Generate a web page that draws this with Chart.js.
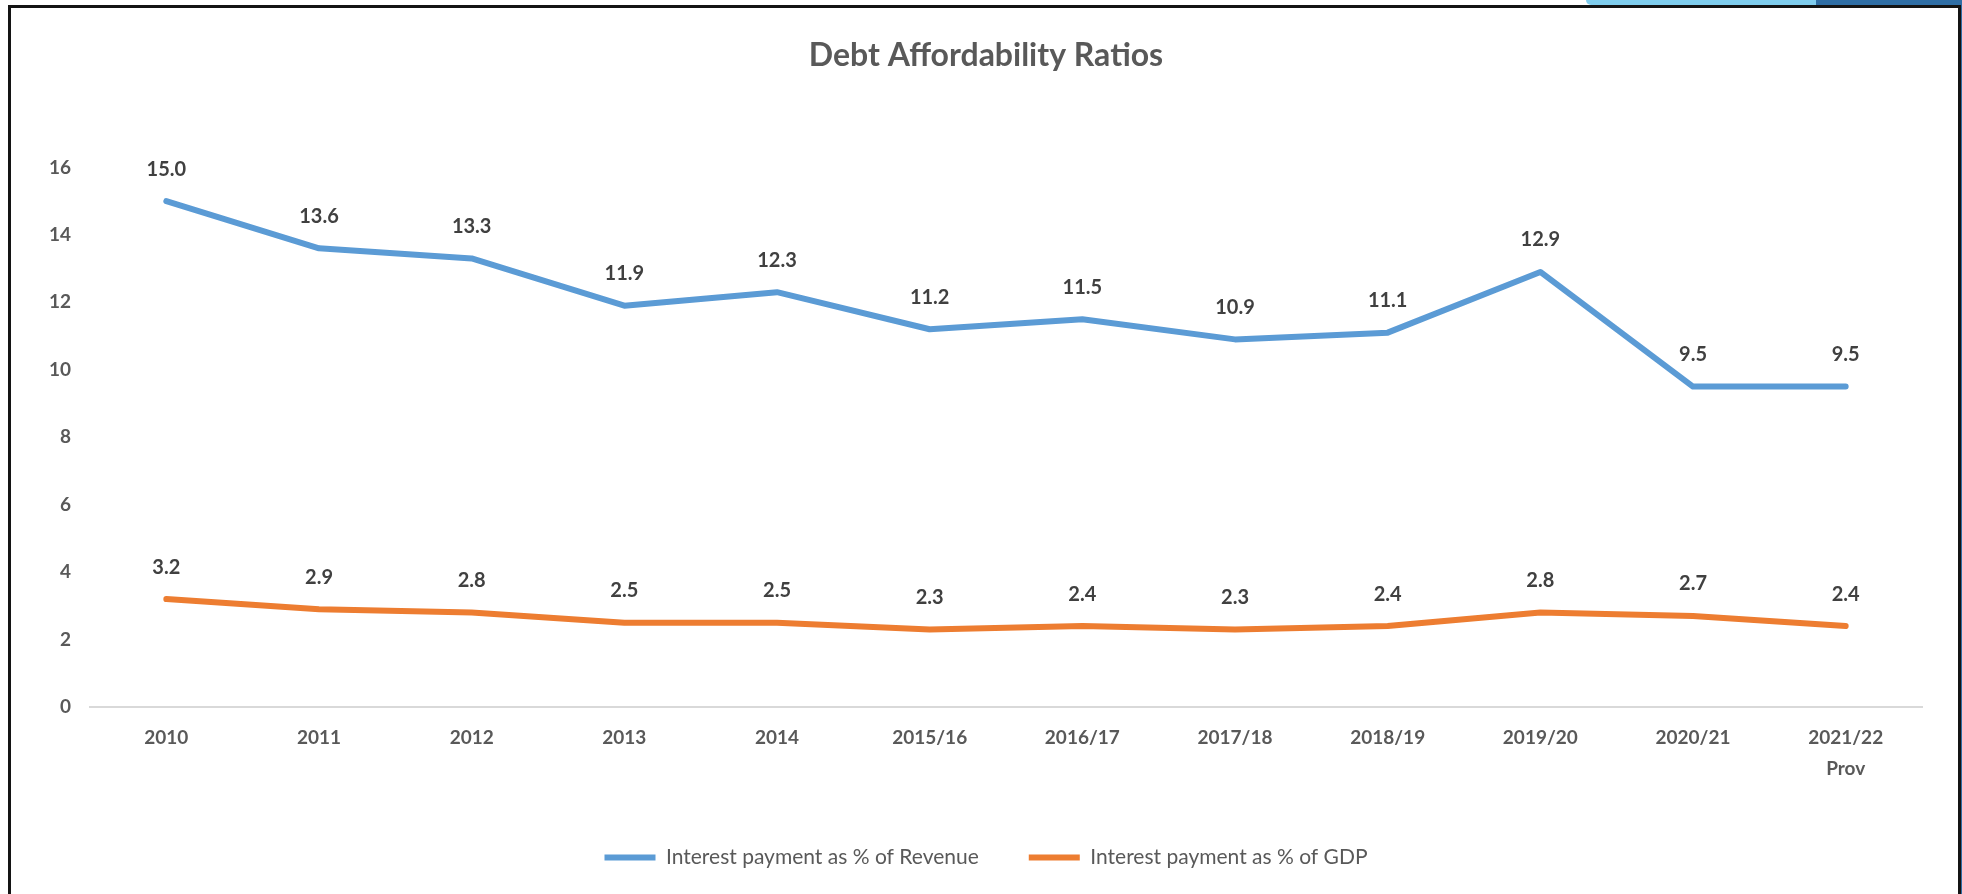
<!DOCTYPE html>
<html>
<head>
<meta charset="utf-8">
<title>Debt Affordability Ratios</title>
<script src="https://cdn.jsdelivr.net/npm/chart.js@4"></script>
<style>
  html, body { margin: 0; padding: 0; background: #fff; }
  #wrap { position: relative; width: 1962px; height: 894px; overflow: hidden; }
  #chartBox { position: absolute; left: 0; top: 0; width: 1962px; height: 894px; }
  /* window frame around the chart */
  .frame { position: absolute; left: 8px; top: 5px; width: 1947px; height: 1000px; border: 3px solid #141414; }
  .tabLight { position: absolute; left: 1586px; top: 0; width: 230px; height: 5px; background: #7fcdee; border-bottom-left-radius: 6px; }
  .tabDark { position: absolute; left: 1816px; top: 0; width: 146px; height: 5px; background: #2f6ea5; }
  .sideDark { position: absolute; left: 1961px; top: 0; width: 1px; height: 894px; background: #2f6ea5; }
</style>
</head>
<body>
<div id="wrap">
  <div id="chartBox"><canvas id="ratioChart"></canvas></div>
  <div class="frame"></div>
  <div class="tabLight"></div>
  <div class="tabDark"></div>
  <div class="sideDark"></div>
</div>
<script>
const years = ["2010", "2011", "2012", "2013", "2014", "2015/16", "2016/17",
  "2017/18", "2018/19", "2019/20", "2020/21", ["2021/22", "Prov"]];

// Interest payment as % of revenue
const revenueShare = [15.0, 13.6, 13.3, 11.9, 12.3, 11.2, 11.5, 10.9, 11.1, 12.9, 9.5, 9.5];
// Interest payment as % of GDP
const gdpShare = [3.2, 2.9, 2.8, 2.5, 2.5, 2.3, 2.4, 2.3, 2.4, 2.8, 2.7, 2.4];

const FONT = "Lato, 'Open Sans', sans-serif";

// value labels above each point
const pointLabels = {
  id: "pointLabels",
  afterDatasetsDraw(chart) {
    const ctx = chart.ctx;
    ctx.save();
    ctx.font = "bold 20px " + FONT;
    ctx.fillStyle = "#404040";
    ctx.textAlign = "center";
    ctx.textBaseline = "middle";
    chart.data.datasets.forEach((ds, i) => {
      chart.getDatasetMeta(i).data.forEach((pt, j) => {
        ctx.fillText(ds.data[j].toFixed(1), pt.x, pt.y - 32);
      });
    });
    ctx.restore();
  },
};

new Chart(document.getElementById("ratioChart"), {
  type: "line",
  data: {
    labels: years,
    datasets: [
      {
        label: "Interest payment as % of Revenue",
        data: revenueShare,
        borderColor: "#5b9bd5",
        backgroundColor: "#5b9bd5",
        borderWidth: 6,
        borderCapStyle: "round",
        borderJoinStyle: "round",
        pointRadius: 0,
        tension: 0,
      },
      {
        label: "Interest payment as % of GDP",
        data: gdpShare,
        borderColor: "#ed7d31",
        backgroundColor: "#ed7d31",
        borderWidth: 6,
        borderCapStyle: "round",
        borderJoinStyle: "round",
        pointRadius: 0,
        tension: 0,
      },
    ],
  },
  options: {
    responsive: true,
    maintainAspectRatio: false,
    animation: false,
    layout: { padding: { left: 50, right: 40, top: 0, bottom: 16 } },
    scales: {
      x: {
        offset: true,
        grid: { display: false, drawTicks: false },
        border: { display: true, color: "#d9d9d9", width: 2 },
        ticks: {
          color: "#595959",
          font: { family: FONT, size: 19, weight: "bold", lineHeight: 1.65 },
          padding: 15,
          maxRotation: 0,
          autoSkip: false,
        },
        afterFit: (scale) => { scale.height = 90; },
      },
      y: {
        min: 0,
        max: 16,
        grid: { display: false, drawTicks: false },
        border: { display: false },
        ticks: {
          stepSize: 2,
          color: "#595959",
          font: { family: FONT, size: 19, weight: "bold" },
          padding: 19,
        },
        afterFit: (scale) => { scale.width = 40; },
      },
    },
    plugins: {
      title: {
        display: true,
        text: "Debt Affordability Ratios",
        color: "#595959",
        font: { family: FONT, size: 32, weight: "bold", lineHeight: 1.2 },
        padding: { top: 36, bottom: 93 },
      },
      legend: {
        position: "bottom",
        labels: {
          usePointStyle: true,
          pointStyle: "line",
          pointStyleWidth: 51,
          color: "#595959",
          font: { family: FONT, size: 21 },
          padding: 50,
        },
      },
      tooltip: { enabled: false },
    },
  },
  plugins: [pointLabels],
});
</script>
</body>
</html>
